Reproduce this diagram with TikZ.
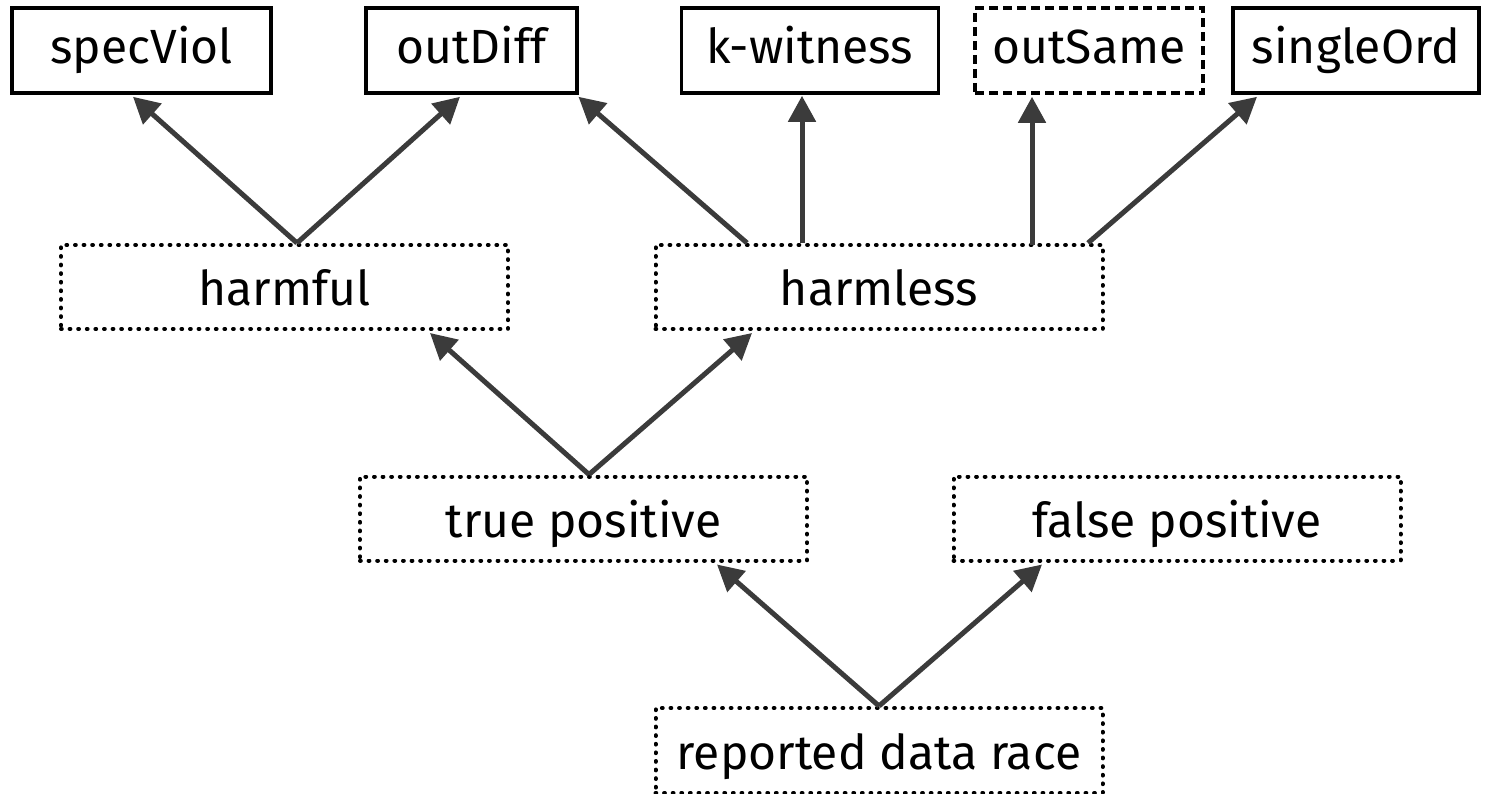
\documentclass[tikz,border=0pt]{standalone}
\usepackage{fontspec}
\setmainfont{Fira Sans}
\usetikzlibrary{arrows.meta}
\definecolor{arrowgray}{HTML}{3B3B3B}
\begin{document}
\begin{tikzpicture}[x=1pt,y=-1pt,
  leaf/.style={draw=black,line width=3.6pt,minimum height=85pt,inner sep=0pt,
    font=\fontsize{48}{56}\selectfont,text height=26pt,text depth=0pt},
  cat/.style={draw=black,line width=4pt,minimum width=447pt,minimum height=84pt,inner sep=0pt,
    dash pattern=on 0.8pt off 7.8pt,line cap=round,
    font=\fontsize{48}{56}\selectfont,text height=37pt,text depth=0pt},
  opt/.style={leaf,dash pattern=on 9pt off 5pt},
  arr/.style={draw=arrowgray,line width=5pt,-{Triangle[length=26pt,width=27pt]}}]
\useasboundingbox (0,0) rectangle (1489,794);
% top row: concrete categories
\node[leaf,minimum width=259pt] (spec) at (141.5,50.5) {specViol};
\node[leaf,minimum width=211pt] (odiff) at (471.5,50.5) {outDiff};
\node[leaf,minimum width=257pt] (kw) at (810,50.5) {k-witness};
\node[opt,minimum width=228pt] (osame) at (1089,50.5) {outSame};
\node[leaf,minimum width=246pt] (single) at (1356,50.5) {singleOrd};
% classification levels
\node[cat] (harmful) at (284.5,287) {harmful};
\node[cat] (harmless) at (879,287) {harmless};
\node[cat] (tp) at (583.5,518.5) {true positive};
\node[cat] (fp) at (1177,518.5) {false positive};
\node[cat,minimum height=85pt] (race) at (879,750.5) {reported data race};
% connectors
\draw[arr] (race.north) -- ([xshift=133.5pt,yshift=-2pt]tp.south);
\draw[arr] (race.north) -- ([xshift=-135pt,yshift=-2pt]fp.south);
\draw[arr] ([xshift=5.5pt]tp.north) -- ([xshift=145.5pt,yshift=-2pt]harmful.south);
\draw[arr] ([xshift=5.5pt]tp.north) -- ([xshift=-127pt,yshift=-2pt]harmless.south);
\draw[arr] ([xshift=12.5pt]harmful.north) -- ([xshift=-8.5pt,yshift=-2pt]spec.south);
\draw[arr] ([xshift=12.5pt]harmful.north) -- ([xshift=-11.5pt,yshift=-2pt]odiff.south);
\draw[arr] ([xshift=-132pt]harmless.north) -- ([xshift=107pt,yshift=-2pt]odiff.south);
\draw[arr] ([xshift=-77pt]harmless.north) -- ([xshift=-8pt,yshift=-1pt]kw.south);
\draw[arr] ([xshift=153pt,yshift=-2pt]harmless.north) -- ([xshift=-57pt,yshift=-2pt]osame.south);
\draw[arr] ([xshift=209pt]harmless.north) -- ([xshift=-99pt,yshift=-2pt]single.south);
\end{tikzpicture}
\end{document}
